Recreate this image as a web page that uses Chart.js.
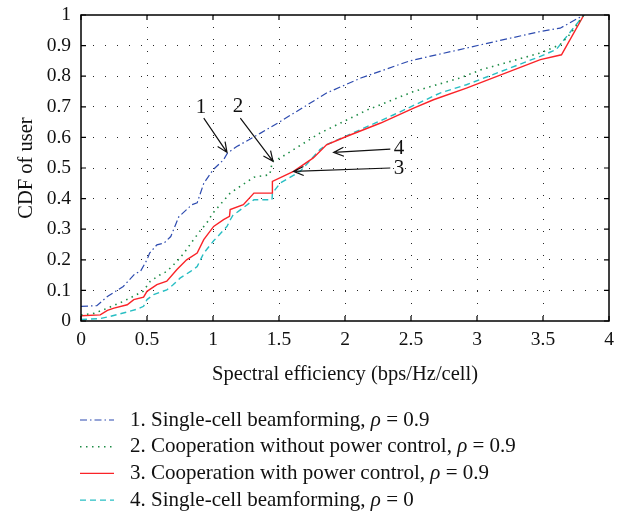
<!DOCTYPE html>
<html>
<head>
    <meta charset="utf-8">
    <title>CDF of user</title>
    <style>
        body { margin: 0; background: #fff; }
        #wrap { width: 620px; height: 514px; }
    </style>
</head>
<body>
    <div id="wrap">
        <canvas id="myChart" width="620" height="514"></canvas>
    </div>

    <script src="https://cdn.jsdelivr.net/npm/chart.js"></script>

    <script>
        // values (x = bps/Hz/cell, y = CDF)
        const singleX = [0, 0.12, 0.2, 0.32, 0.41, 0.45, 0.5, 0.52, 0.575, 0.63, 0.68, 0.74, 0.84, 0.88, 0.93, 1.0, 1.08, 1.11, 1.18, 1.36, 1.51, 1.86, 2.12, 2.49, 2.87, 3.03, 3.48, 3.63, 3.81];
        const singleY = [0.048, 0.05, 0.08, 0.113, 0.155, 0.162, 0.2, 0.222, 0.249, 0.255, 0.276, 0.34, 0.38, 0.386, 0.45, 0.494, 0.527, 0.549, 0.57, 0.614, 0.652, 0.745, 0.794, 0.85, 0.887, 0.903, 0.946, 0.957, 1.0];

        const coopNoPcX = [0, 0.1, 0.2, 0.32, 0.42, 0.47, 0.525, 0.6, 0.65, 0.727, 0.78, 0.853, 0.9, 0.955, 1.0, 1.13, 1.31, 1.43, 1.45, 1.51, 1.81, 2.17, 2.52, 2.87, 3.03, 3.48, 3.63, 3.71, 3.81];
        const coopNoPcY = [0.02, 0.025, 0.042, 0.064, 0.086, 0.097, 0.13, 0.151, 0.162, 0.195, 0.222, 0.266, 0.293, 0.322, 0.353, 0.418, 0.47, 0.478, 0.522, 0.533, 0.614, 0.69, 0.75, 0.794, 0.821, 0.876, 0.903, 0.94, 1.0];

        const coopPcX = [0, 0.146, 0.2, 0.25, 0.35, 0.4, 0.474, 0.5, 0.575, 0.65, 0.727, 0.8, 0.88, 0.93, 1.005, 1.08, 1.125, 1.13, 1.23, 1.31, 1.447, 1.45, 1.61, 1.76, 1.86, 2.01, 2.27, 2.52, 2.67, 2.92, 3.48, 3.64, 3.81];
        const coopPcY = [0.017, 0.02, 0.035, 0.042, 0.053, 0.07, 0.078, 0.097, 0.119, 0.13, 0.168, 0.2, 0.222, 0.266, 0.309, 0.331, 0.342, 0.364, 0.38, 0.418, 0.418, 0.456, 0.489, 0.533, 0.576, 0.603, 0.647, 0.696, 0.723, 0.761, 0.854, 0.87, 1.0];

        const singleRho0X = [0, 0.146, 0.22, 0.32, 0.42, 0.474, 0.5, 0.55, 0.65, 0.7, 0.75, 0.83, 0.88, 0.93, 1.005, 1.106, 1.13, 1.15, 1.31, 1.447, 1.45, 1.51, 1.66, 1.81, 1.86, 2.01, 2.37, 2.72, 2.92, 3.48, 3.6, 3.68, 3.81];
        const singleRho0Y = [0.005, 0.008, 0.015, 0.026, 0.038, 0.048, 0.07, 0.086, 0.102, 0.119, 0.14, 0.162, 0.178, 0.222, 0.262, 0.309, 0.33, 0.345, 0.396, 0.396, 0.418, 0.451, 0.489, 0.56, 0.576, 0.605, 0.674, 0.745, 0.772, 0.865, 0.887, 0.93, 1.0];

        const legendNames = [
            '1. Single-cell beamforming, ',
            '2. Cooperation without power control, ',
            '3. Cooperation with power control, ',
            '4. Single-cell beamforming, '
        ];
        const legendRho = [' = 0.9', ' = 0.9', ' = 0.9', ' = 0'];

        // numbered callouts: label position and arrow (tail -> head), in data units
        const callouts = [
            { text: '1', lx: 0.91, ly: 0.697, x0: 0.93, y0: 0.663, x1: 1.106, y1: 0.551 },
            { text: '2', lx: 1.19, ly: 0.70, x0: 1.207, y0: 0.663, x1: 1.455, y1: 0.522 },
            { text: '4', lx: 2.41, ly: 0.565, x0: 2.343, y0: 0.562, x1: 1.914, y1: 0.551 },
            { text: '3', lx: 2.41, ly: 0.50, x0: 2.343, y0: 0.50, x1: 1.61, y1: 0.489 }
        ];

        const FONT = "'Liberation Serif', 'DejaVu Serif', serif";

        const toPoints = (xs, ys) => xs.map((x, i) => ({ x: x, y: ys[i] }));

        const datasets = [
            { data: toPoints(singleX, singleY), borderColor: 'rgb(45,75,175)', borderWidth: 1.2, borderDash: [7, 3, 1.5, 3] },
            { data: toPoints(coopNoPcX, coopNoPcY), borderColor: 'rgb(30,140,70)', borderWidth: 1.6, borderDash: [1.5, 4.5] },
            { data: toPoints(coopPcX, coopPcY), borderColor: 'rgb(250,35,40)', borderWidth: 1.4, borderDash: [] },
            { data: toPoints(singleRho0X, singleRho0Y), borderColor: 'rgb(40,190,195)', borderWidth: 1.4, borderDash: [6, 4] }
        ].map(d => Object.assign(d, { showLine: true, pointRadius: 0, fill: false, tension: 0 }));

        const edgeClear = (lo, hi) => (c) => {
            const v = c.tick ? c.tick.value : null;
            return (v === lo || v === hi) ? 'rgba(0,0,0,0)' : 'rgba(0,0,0,0.85)';
        };
        const plainNum = (v) => String(Math.round(v * 10) / 10);

        function arrow(ctx, xa, ya, xb, yb) {
            ctx.beginPath();
            ctx.moveTo(xa, ya);
            ctx.lineTo(xb, yb);
            const ang = Math.atan2(yb - ya, xb - xa);
            const len = 11, spread = 0.42;
            ctx.moveTo(xb - len * Math.cos(ang - spread), yb - len * Math.sin(ang - spread));
            ctx.lineTo(xb, yb);
            ctx.lineTo(xb - len * Math.cos(ang + spread), yb - len * Math.sin(ang + spread));
            ctx.stroke();
        }

        const decorations = {
            id: 'decorations',
            afterDraw(chart) {
                const ctx = chart.ctx;
                const a = chart.chartArea;
                const xs = chart.scales.x, ys = chart.scales.y;
                ctx.save();

                // box and inward ticks
                ctx.strokeStyle = '#000';
                ctx.lineWidth = 1.5;
                ctx.setLineDash([]);
                ctx.strokeRect(a.left, a.top, a.right - a.left, a.bottom - a.top);
                ctx.lineWidth = 1.2;
                ctx.beginPath();
                xs.ticks.forEach(t => {
                    const px = xs.getPixelForValue(t.value);
                    ctx.moveTo(px, a.bottom); ctx.lineTo(px, a.bottom - 5);
                    ctx.moveTo(px, a.top); ctx.lineTo(px, a.top + 5);
                });
                ys.ticks.forEach(t => {
                    const py = ys.getPixelForValue(t.value);
                    ctx.moveTo(a.left, py); ctx.lineTo(a.left + 5, py);
                    ctx.moveTo(a.right, py); ctx.lineTo(a.right - 5, py);
                });
                ctx.stroke();

                // callouts
                ctx.fillStyle = '#111';
                ctx.strokeStyle = '#111';
                ctx.lineWidth = 1.2;
                ctx.font = '21px ' + FONT;
                ctx.textAlign = 'center';
                ctx.textBaseline = 'middle';
                callouts.forEach(c => {
                    ctx.fillText(c.text, xs.getPixelForValue(c.lx), ys.getPixelForValue(c.ly));
                    arrow(ctx, xs.getPixelForValue(c.x0), ys.getPixelForValue(c.y0),
                        xs.getPixelForValue(c.x1), ys.getPixelForValue(c.y1));
                });

                // legend below the plot
                const rowTop = 420, rowGap = 26.7, lineX0 = 80, lineX1 = 114, textX = 130;
                ctx.textAlign = 'left';
                chart.data.datasets.forEach((ds, i) => {
                    const y = rowTop + i * rowGap;
                    ctx.strokeStyle = ds.borderColor;
                    ctx.lineWidth = ds.borderWidth;
                    ctx.setLineDash(ds.borderDash);
                    ctx.beginPath();
                    ctx.moveTo(lineX0, y);
                    ctx.lineTo(lineX1, y);
                    ctx.stroke();
                    ctx.setLineDash([]);
                    ctx.fillStyle = '#111';
                    let x = textX;
                    ctx.font = '21px ' + FONT;
                    ctx.fillText(legendNames[i], x, y);
                    x += ctx.measureText(legendNames[i]).width;
                    ctx.font = 'italic 21px ' + FONT;
                    ctx.fillText('\u03C1', x, y);
                    x += ctx.measureText('\u03C1').width;
                    ctx.font = '21px ' + FONT;
                    ctx.fillText(legendRho[i], x, y);
                });
                ctx.restore();
            }
        };

        const config = {
            type: 'scatter',
            data: { datasets: datasets },
            options: {
                responsive: false,
                animation: false,
                layout: { padding: { left: 0, top: 15, right: 11, bottom: 123 } },
                plugins: {
                    legend: { display: false },
                    tooltip: { enabled: false }
                },
                scales: {
                    x: {
                        type: 'linear',
                        min: 0,
                        max: 4,
                        afterFit: (s) => { s.height = 70; s.paddingLeft = 0; s.paddingRight = 0; },
                        ticks: { stepSize: 0.5, padding: 7, color: '#111', callback: plainNum, font: { family: FONT, size: 19.5 } },
                        grid: { drawTicks: false, color: edgeClear(0, 4), lineWidth: 1 },
                        border: { display: false, dash: [1, 11] },
                        title: { display: true, text: 'Spectral efficiency (bps/Hz/cell)', color: '#111', font: { family: FONT, size: 20.5 }, padding: { top: 6 } }
                    },
                    y: {
                        type: 'linear',
                        min: 0,
                        max: 1,
                        afterFit: (s) => { s.width = 81; s.paddingTop = 0; s.paddingBottom = 0; },
                        ticks: { stepSize: 0.1, padding: 10, color: '#111', callback: plainNum, font: { family: FONT, size: 19.5 } },
                        grid: { drawTicks: false, color: edgeClear(0, 1), lineWidth: 1 },
                        border: { display: false, dash: [1, 11] },
                        title: { display: true, text: 'CDF of user', color: '#111', font: { family: FONT, size: 20.5 }, padding: { top: 14, bottom: 4 } }
                    }
                }
            },
            plugins: [decorations]
        };

        const ctx = document.getElementById('myChart');
        new Chart(ctx, config);
    </script>
</body>
</html>
